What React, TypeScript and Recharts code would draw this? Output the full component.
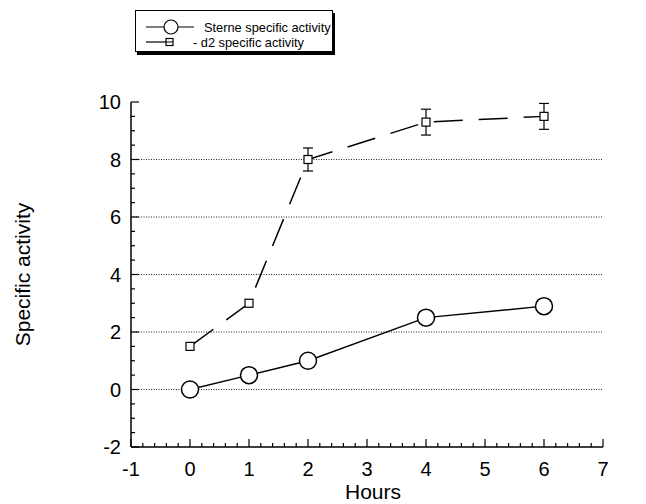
import React from 'react';
import { ComposedChart, Line, XAxis, YAxis, ErrorBar, ReferenceLine, Legend } from 'recharts';

const hours = [0, 1, 2, 4, 6];
const sterneActivity = [0, 0.5, 1, 2.5, 2.9];
const d2Activity = [1.5, 3, 8, 9.3, 9.5];
const d2Error = [0, 0, 0.4, 0.45, 0.45];
const seriesNames = ['Sterne specific activity', '- d2 specific activity'];
const xTickLabels = [-1, 0, 1, 2, 3, 4, 5, 6, 7];
const yTickLabels = [-2, 0, 2, 4, 6, 8, 10];
const gridValues = [0, 2, 4, 6, 8];
const xTicks = Array.from({ length: 41 }, (_, i) => Math.round((-1 + i * 0.2) * 10) / 10);
const yTicks = Array.from({ length: 25 }, (_, i) => -2 + i * 0.5);

const data = hours.map((h, i) => ({
  hours: h,
  sterne: sterneActivity[i],
  d2: d2Activity[i],
  d2Err: d2Error[i],
}));

const FONT = '"Liberation Sans", Arial, Helvetica, sans-serif';

const isXMajor = (v: number) => xTickLabels.some((t) => Math.abs(t - v) < 1e-6);
const isYMajor = (v: number) => yTickLabels.some((t) => Math.abs(t - v) < 1e-6);

const BottomTick = (props: any) => {
  const { x, y, payload } = props;
  const v = payload.value;
  const major = isXMajor(v);
  return (
    <g>
      <line x1={x} x2={x} y1={y} y2={y - (major ? 8 : 4)} stroke="#000" strokeWidth={1.2} />
      {major && (
        <text x={x} y={y + 29} textAnchor="middle" fontSize={20} fontFamily={FONT} fill="#000">
          {v}
        </text>
      )}
    </g>
  );
};

const TopTick = (props: any) => {
  const { x, y, payload } = props;
  const major = isXMajor(payload.value);
  return <line x1={x} x2={x} y1={y} y2={y + (major ? 8 : 4)} stroke="#000" strokeWidth={1.2} />;
};

const LeftTick = (props: any) => {
  const { x, y, payload } = props;
  const v = payload.value;
  const major = isYMajor(v);
  return (
    <g>
      <line x1={x} x2={x + (major ? 8 : 4)} y1={y} y2={y} stroke="#000" strokeWidth={1.2} />
      {major && (
        <text x={x - 10} y={y + 7} textAnchor="end" fontSize={20} fontFamily={FONT} fill="#000">
          {v}
        </text>
      )}
    </g>
  );
};

const RightTick = (props: any) => {
  const { x, y, payload } = props;
  const major = isYMajor(payload.value);
  return <line x1={x} x2={x - (major ? 8 : 4)} y1={y} y2={y} stroke="#000" strokeWidth={1.2} />;
};

const SquareDot = (props: any) => {
  const { cx, cy, index } = props;
  return (
    <rect
      key={`sq-${index}`}
      x={cx - 4}
      y={cy - 4}
      width={8}
      height={8}
      fill="#fff"
      stroke="#000"
      strokeWidth={1.2}
    />
  );
};

const renderLegend = () => (
  <div
    style={{
      width: 196,
      height: 40,
      border: '1px solid #000',
      boxShadow: '2px 3px 0 #000',
      background: '#fff',
    }}
  >
    <svg width={196} height={40} style={{ display: 'block' }}>
      <line x1={10} x2={58} y1={16} y2={16} stroke="#000" strokeWidth={1.2} />
      <circle cx={35} cy={16} r={7} fill="#fff" stroke="#000" strokeWidth={1.2} />
      <text x={68} y={20.5} fontSize={12.8} fontFamily={FONT} fill="#000">
        {seriesNames[0]}
      </text>
      <line x1={10} x2={30} y1={31} y2={31} stroke="#000" strokeWidth={1.2} />
      <rect x={30} y={27.5} width={7} height={7} fill="#fff" stroke="#000" strokeWidth={1.2} />
      <line x1={30} x2={37} y1={31} y2={31} stroke="#000" strokeWidth={1} />
      <text x={57} y={35.5} fontSize={12.8} fontFamily={FONT} fill="#000">
        {seriesNames[1]}
      </text>
    </svg>
  </div>
);

const XLabel = (props: any) => {
  const vb = props.viewBox || {};
  const cx = (vb.x ?? 123) + (vb.width ?? 472) / 2 + 6;
  return (
    <text x={cx} y={491} textAnchor="middle" fontSize={21} fontFamily={FONT} fill="#000">
      Hours
    </text>
  );
};

const YLabel = (props: any) => {
  const vb = props.viewBox || {};
  const cy = (vb.y ?? 94) + (vb.height ?? 345) / 2;
  return (
    <text
      x={22}
      y={cy}
      transform={`rotate(-90 22 ${cy})`}
      textAnchor="middle"
      fontSize={21}
      fontFamily={FONT}
      fill="#000"
    >
      Specific activity
    </text>
  );
};

export default function App() {
  return (
    <ComposedChart
      width={638}
      height={496}
      data={data}
      margin={{ top: 94, right: 43, bottom: 0, left: 0 }}
      style={{ fontFamily: FONT, background: '#fff' }}
    >
      <XAxis
        xAxisId="main"
        dataKey="hours"
        type="number"
        domain={[-1, 7]}
        ticks={xTicks}
        interval={0}
        tickSize={0}
        tickMargin={0}
        height={57}
        allowDataOverflow
        axisLine={{ stroke: '#000', strokeWidth: 1.5 }}
        tickLine={false}
        tick={<BottomTick />}
        label={<XLabel />}
      />
      <XAxis
        xAxisId="top"
        orientation="top"
        type="number"
        domain={[-1, 7]}
        ticks={xTicks}
        interval={0}
        tickSize={0}
        tickMargin={0}
        height={0}
        allowDataOverflow
        axisLine={{ stroke: '#000', strokeWidth: 1.5 }}
        tickLine={false}
        tick={<TopTick />}
      />
      <YAxis
        yAxisId="main"
        type="number"
        domain={[-2, 10]}
        ticks={yTicks}
        interval={0}
        tickSize={0}
        tickMargin={0}
        width={123}
        allowDataOverflow
        axisLine={{ stroke: '#000', strokeWidth: 1.5 }}
        tickLine={false}
        tick={<LeftTick />}
        label={<YLabel />}
      />
      <YAxis
        yAxisId="right"
        orientation="right"
        type="number"
        domain={[-2, 10]}
        ticks={yTicks}
        interval={0}
        tickSize={0}
        tickMargin={0}
        width={0}
        allowDataOverflow
        axisLine={{ stroke: '#000', strokeWidth: 1.5 }}
        tickLine={false}
        tick={<RightTick />}
      />
      {gridValues.map((g) => (
        <ReferenceLine
          key={`g-${g}`}
          xAxisId="main"
          yAxisId="main"
          y={g}
          stroke="#222"
          strokeWidth={1}
          strokeDasharray="1 1.5"
        />
      ))}
      <Legend
        layout="vertical"
        align="center"
        verticalAlign="middle"
        wrapperStyle={{ top: 2, left: 127, width: 200, height: 44 }}
        content={renderLegend}
      />
      <Line
        xAxisId="main"
        yAxisId="main"
        dataKey="sterne"
        name={seriesNames[0]}
        stroke="#000"
        strokeWidth={1.5}
        dot={{ r: 8.5, fill: '#fff', stroke: '#000', strokeWidth: 1.5 }}
        isAnimationActive={false}
      />
      <Line
        xAxisId="main"
        yAxisId="main"
        dataKey="d2"
        name={seriesNames[1]}
        stroke="#000"
        strokeWidth={1.5}
        strokeDasharray="29 16"
        dot={<SquareDot />}
        isAnimationActive={false}
      >
        <ErrorBar dataKey="d2Err" width={5} stroke="#000" strokeWidth={1.2} direction="y" />
      </Line>
    </ComposedChart>
  );
}
